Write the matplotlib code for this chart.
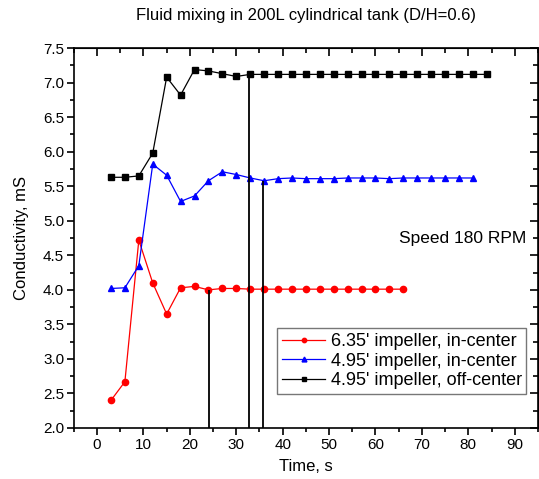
import numpy as np
import matplotlib.pyplot as plt
from matplotlib.ticker import MultipleLocator

plt.rcParams['font.family'] = ['Liberation Sans', 'DejaVu Sans']

# ---- data ----
t_red = [3, 6, 9, 12, 15, 18, 21, 24, 27, 30, 33, 36, 39, 42, 45, 48, 51, 54, 57, 60, 63, 66]
c_red = [2.40, 2.67, 4.72, 4.10, 3.65, 4.03, 4.05, 4.00, 4.02, 4.02, 4.01, 4.01, 4.01, 4.01,
         4.01, 4.01, 4.01, 4.01, 4.01, 4.01, 4.01, 4.01]

t_blue = [3, 6, 9, 12, 15, 18, 21, 24, 27, 30, 33, 36, 39, 42, 45, 48, 51, 54, 57, 60, 63,
          66, 69, 72, 75, 78, 81]
c_blue = [4.02, 4.03, 4.35, 5.82, 5.66, 5.28, 5.36, 5.58, 5.71, 5.67, 5.62, 5.58, 5.61, 5.62,
          5.61, 5.61, 5.61, 5.62, 5.62, 5.62, 5.61, 5.62, 5.62, 5.62, 5.62, 5.62, 5.62]

t_black = [3, 6, 9, 12, 15, 18, 21, 24, 27, 30, 33, 36, 39, 42, 45, 48, 51, 54, 57, 60, 63,
           66, 69, 72, 75, 78, 81, 84]
c_black = [5.63, 5.63, 5.65, 5.98, 7.08, 6.82, 7.19, 7.17, 7.13, 7.09, 7.12, 7.12, 7.12, 7.12,
           7.12, 7.12, 7.12, 7.12, 7.12, 7.12, 7.12, 7.12, 7.12, 7.12, 7.12, 7.12, 7.12, 7.12]

labels = ["6.35' impeller, in-center", "4.95' impeller, in-center", "4.95' impeller, off-center"]

# mixing time markers: (time, level reached)
mix_t = [24.2, 32.7, 35.7]
mix_c = [4.00, 7.11, 5.58]

fig = plt.figure(figsize=(5.39, 4.79), dpi=100)
ax = fig.add_axes([0.137, 0.1065, 0.861, 0.793])

ax.plot(t_red, c_red, color='red', marker='o', ms=4.5, lw=0.9, label=labels[0])
ax.plot(t_blue, c_blue, color='blue', marker='^', ms=5, lw=0.9, label=labels[1])
ax.plot(t_black, c_black, color='black', marker='s', ms=4.5, lw=0.9, label=labels[2])

ax.vlines(mix_t, 2.0, mix_c, color='black', lw=1.3)

ax.set_xlim(-5, 95)
ax.set_ylim(2.0, 7.5)
ax.xaxis.set_major_locator(MultipleLocator(10))
ax.xaxis.set_minor_locator(MultipleLocator(5))
ax.yaxis.set_major_locator(MultipleLocator(0.5))
ax.yaxis.set_minor_locator(MultipleLocator(0.25))
ax.yaxis.set_major_formatter(plt.FormatStrFormatter('%.1f'))

ax.tick_params(which='both', direction='out', top=False, right=False, labelsize=11, pad=2)
ax.tick_params(which='major', length=5, width=1.2)
ax.tick_params(which='minor', length=3, width=1.2)
# inward ticks on the top and right edges
ax2 = ax.secondary_xaxis('top')
ax2.xaxis.set_major_locator(MultipleLocator(10))
ax2.xaxis.set_minor_locator(MultipleLocator(5))
ax2.tick_params(which='both', direction='in', labeltop=False, width=1.2)
ax2.tick_params(which='major', length=6)
ax2.tick_params(which='minor', length=3.5)
ax3 = ax.secondary_yaxis('right')
ax3.yaxis.set_major_locator(MultipleLocator(0.5))
ax3.yaxis.set_minor_locator(MultipleLocator(0.25))
ax3.tick_params(which='both', direction='in', labelright=False, width=1.2)
ax3.tick_params(which='major', length=6)
ax3.tick_params(which='minor', length=3.5)

for sp in ax.spines.values():
    sp.set_linewidth(1.2)

ax.set_xlabel('Time, s', fontsize=12, labelpad=5)
ax.set_ylabel('Conductivity, mS', fontsize=12, labelpad=10)
ax.set_title('Fluid mixing in 200L cylindrical tank (D/H=0.6)', fontsize=12, pad=20)

ax.text(0.975, 0.5, 'Speed 180 RPM', transform=ax.transAxes, ha='right', va='center', fontsize=12.5)

leg = ax.legend(loc='lower right', bbox_to_anchor=(0.975, 0.09), fontsize=13, frameon=True,
                fancybox=False, edgecolor='#555555', handlelength=2.4, handletextpad=0.3,
                borderpad=0.25, labelspacing=0.15, markerscale=0.7, borderaxespad=0)
leg.get_frame().set_linewidth(1.0)

fig.savefig('out.png', dpi=100)
